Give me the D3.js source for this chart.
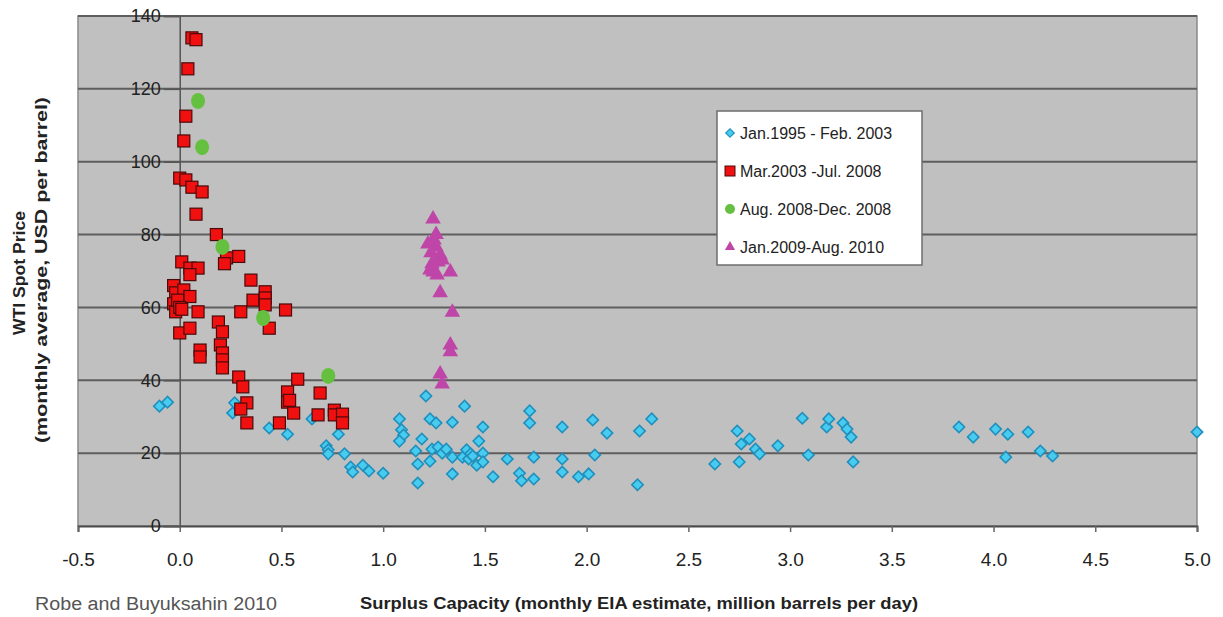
<!DOCTYPE html>
<html>
<head>
<meta charset="utf-8">
<script src="https://cdn.jsdelivr.net/npm/d3@7"></script>
<style>
  html, body { margin: 0; padding: 0; background: #fff; }
  svg { display: block; }
  text { font-family: "Liberation Sans", Arial, sans-serif; }
</style>
</head>
<body>
<svg id="chart" width="1223" height="617"></svg>
<script>
// Surplus capacity (million b/d) vs. WTI spot price (USD/bbl), by period
const period1995 = [ // Jan.1995 - Feb.2003
  [-0.10,32.9],[-0.06,34.0],[0.27,33.8],[0.26,31.0],[0.44,26.9],[0.53,25.2],[0.65,29.4],
  [0.72,22.0],[0.73,20.9],[0.73,19.8],[0.78,25.2],[0.81,19.8],[0.84,16.2],[0.85,14.8],
  [0.90,16.7],[0.93,15.1],[1.00,14.5],[1.08,29.4],[1.09,26.4],[1.10,25.0],[1.08,23.3],
  [1.16,20.6],[1.17,17.0],[1.17,11.8],[1.21,35.7],[1.19,23.9],[1.23,29.4],[1.26,28.3],
  [1.23,17.8],[1.24,21.1],[1.27,21.7],[1.29,20.0],[1.31,21.1],[1.34,28.5],[1.34,18.9],
  [1.34,14.3],[1.40,32.9],[1.39,18.9],[1.41,20.9],[1.42,18.4],[1.43,19.8],[1.44,19.2],
  [1.46,16.7],[1.47,23.3],[1.49,27.2],[1.49,20.0],[1.49,17.6],[1.54,13.5],[1.61,18.4],
  [1.67,14.5],[1.68,12.4],[1.72,31.6],[1.72,28.3],[1.74,18.9],[1.74,12.9],[1.88,27.2],
  [1.88,18.4],[1.88,14.8],[1.96,13.5],[2.01,14.3],[2.03,29.1],[2.04,19.5],[2.10,25.5],
  [2.25,11.3],[2.26,26.1],[2.32,29.4],[2.63,17.0],[2.74,26.1],[2.75,17.6],[2.76,22.5],
  [2.80,23.9],[2.83,21.1],[2.85,19.8],[2.94,22.0],[3.06,29.6],[3.09,19.5],[3.18,27.2],
  [3.19,29.4],[3.26,28.3],[3.28,26.6],[3.30,24.4],[3.31,17.6],[3.83,27.2],[3.90,24.4],
  [4.01,26.6],[4.07,25.2],[4.06,18.9],[4.17,25.8],[4.23,20.6],[4.29,19.2],[5.00,25.8]
];
const period2003 = [ // Mar.2003 - Jul.2008
  [0.06,134.0],[0.08,133.5],[0.04,125.5],[0.03,112.5],[0.02,105.7],[0.00,95.5],[0.03,95.0],
  [0.06,93.0],[0.11,91.7],[0.08,85.6],[0.18,80.0],[0.23,73.6],[0.29,74.0],[0.01,72.5],
  [0.05,70.8],[0.09,70.8],[0.05,69.0],[0.22,72.0],[0.35,67.5],[-0.03,66.0],[-0.02,64.0],
  [0.02,64.8],[0.05,63.0],[-0.03,61.0],[-0.02,58.8],[-0.01,62.0],[0.00,60.0],[0.01,59.5],
  [0.09,58.8],[0.36,62.0],[0.42,64.3],[0.42,62.6],[0.42,60.7],[0.30,58.8],[0.52,59.3],
  [0.44,54.3],[0.00,53.0],[0.05,54.3],[0.10,48.3],[0.10,46.4],[0.19,56.0],[0.21,53.3],
  [0.20,49.7],[0.21,47.5],[0.21,45.6],[0.21,43.4],[0.29,40.9],[0.31,38.2],[0.33,33.8],
  [0.30,32.1],[0.33,28.3],[0.49,28.3],[0.53,36.8],[0.53,34.0],[0.54,34.5],[0.56,31.0],
  [0.58,40.3],[0.69,36.5],[0.68,30.5],[0.76,31.8],[0.76,30.5],[0.80,30.7],[0.80,28.3]
];
const period2008 = [ // Aug.2008 - Dec.2008
  [0.09,116.7],[0.11,104.0],[0.21,76.6],[0.41,57.1],[0.73,41.2]
];
const period2009 = [ // Jan.2009 - Aug.2010
  [1.245,84.3],[1.22,77.4],[1.26,76.6],[1.235,75.0],[1.28,74.4],[1.27,72.5],[1.245,69.7],
  [1.265,68.9],[1.33,69.7],[1.28,64.0],[1.34,58.7],[1.33,49.7],[1.33,47.8],[1.28,41.7],
  [1.29,39.0],[1.25,78.5],[1.23,70.3],[1.29,73.0],[1.26,80.0],[1.24,72.0]
];
const seriesNames = ["Jan.1995 - Feb. 2003", "Mar.2003 -Jul. 2008", "Aug. 2008-Dec. 2008", "Jan.2009-Aug. 2010"];
const xTicks = [-0.5, 0, 0.5, 1, 1.5, 2, 2.5, 3, 3.5, 4, 4.5, 5];
const yTicks = [0, 20, 40, 60, 80, 100, 120, 140];

const svg = d3.select("#chart");
const plot = { left: 78, right: 1197, top: 16, bottom: 526 };

const x = d3.scaleLinear().domain([-0.5, 5]).range([plot.left, plot.right]);
const y = d3.scaleLinear().domain([0, 140]).range([plot.bottom, plot.top]);

// plot background
svg.append("rect")
  .attr("x", plot.left).attr("y", plot.top)
  .attr("width", plot.right - plot.left).attr("height", plot.bottom - plot.top)
  .attr("fill", "#c0c0c0").attr("stroke", "#8a8a8a").attr("stroke-width", 1.5);

// horizontal gridlines
svg.append("g").selectAll("line").data(yTicks.filter(d => d > 0)).join("line")
  .attr("x1", plot.left).attr("x2", plot.right)
  .attr("y1", d => y(d)).attr("y2", d => y(d))
  .attr("stroke", "#5e5e5e").attr("stroke-width", 2);

// x axis along y = 0
const fmt = d3.format(".1f");
const xAxis = svg.append("g").attr("transform", `translate(0,${y(0)})`)
  .call(d3.axisBottom(x).tickValues(xTicks).tickSize(6).tickPadding(21));
xAxis.select(".domain").attr("stroke", "#4a4a4a").attr("stroke-width", 2);
xAxis.selectAll(".tick line").attr("stroke", "#666").attr("stroke-width", 1.5);
xAxis.selectAll(".tick text").attr("font-size", 19).attr("fill", "#222")
  .text(d => d < 0 ? "-" + fmt(-d) : fmt(d));

// y axis crossing at x = 0
const yAxis = svg.append("g").attr("transform", `translate(${x(0)},0)`)
  .call(d3.axisLeft(y).tickValues(yTicks).tickSize(16).tickPadding(3));
yAxis.select(".domain").attr("stroke", "#555").attr("stroke-width", 1.5);
yAxis.selectAll(".tick line").attr("stroke", "#555").attr("stroke-width", 1.5);
yAxis.selectAll(".tick text").attr("font-size", 18).attr("fill", "#222");

// markers
const marks = svg.append("g");
// diamonds: squares turned 45 degrees
const diamond = d3.symbol().type(d3.symbolSquare).size(64);
marks.append("g").selectAll("path").data(period1995).join("path")
  .attr("d", diamond)
  .attr("transform", d => `translate(${x(d[0])},${y(d[1])}) rotate(45)`)
  .attr("fill", "#47cbee").attr("stroke", "#1f8fbd").attr("stroke-width", 1.6);

marks.append("g").selectAll("rect").data(period2003).join("rect")
  .attr("x", d => x(d[0]) - 6).attr("y", d => y(d[1]) - 6)
  .attr("width", 12).attr("height", 12)
  .attr("fill", "#f01010").attr("stroke", "#4a0a0a").attr("stroke-width", 1.2);

marks.append("g").selectAll("ellipse").data(period2008).join("ellipse")
  .attr("cx", d => x(d[0])).attr("cy", d => y(d[1]))
  .attr("rx", 7).attr("ry", 8)
  .attr("fill", "#66c040");

const tri = d3.symbol().type(d3.symbolTriangle).size(105);
marks.append("g").selectAll("path").data(period2009).join("path")
  .attr("d", tri)
  .attr("transform", d => `translate(${x(d[0])},${y(d[1])})`)
  .attr("fill", "#bf45a8");

// legend
const legend = svg.append("g");
legend.append("rect")
  .attr("x", 717).attr("y", 111).attr("width", 205).attr("height", 154)
  .attr("fill", "#fff").attr("stroke", "#6e6e6e").attr("stroke-width", 1.5);
const legendY = [133, 171, 209, 247];
const row = legend.selectAll("g.row").data(seriesNames).join("g")
  .attr("class", "row")
  .attr("transform", (d, i) => `translate(730,${legendY[i]})`);
row.append("text").attr("x", 10).attr("y", 0).attr("dy", "0.35em")
  .attr("font-size", 16).attr("fill", "#222").text(d => d);
row.filter((d, i) => i === 0).append("path").attr("d", d3.symbol().type(d3.symbolSquare).size(36))
  .attr("transform", "rotate(45)")
  .attr("fill", "#47cbee").attr("stroke", "#1f8fbd").attr("stroke-width", 1.2);
row.filter((d, i) => i === 1).append("rect").attr("x", -5).attr("y", -5).attr("width", 10).attr("height", 10)
  .attr("fill", "#f01010").attr("stroke", "#4a0a0a");
row.filter((d, i) => i === 2).append("circle").attr("r", 5).attr("fill", "#66c040");
row.filter((d, i) => i === 3).append("path").attr("d", d3.symbol().type(d3.symbolTriangle).size(45))
  .attr("fill", "#bf45a8");

// axis titles
svg.append("text")
  .attr("transform", "translate(25,273) rotate(-90)")
  .attr("text-anchor", "middle").attr("font-size", 16).attr("font-weight", "bold").attr("fill", "#222")
  .attr("textLength", 124).attr("lengthAdjust", "spacingAndGlyphs")
  .text("WTI Spot Price");
svg.append("text")
  .attr("transform", "translate(47,270) rotate(-90)")
  .attr("text-anchor", "middle").attr("font-size", 16).attr("font-weight", "bold").attr("fill", "#222")
  .attr("textLength", 346).attr("lengthAdjust", "spacingAndGlyphs")
  .text("(monthly average, USD per barrel)");
svg.append("text")
  .attr("x", 639).attr("y", 609)
  .attr("text-anchor", "middle").attr("font-size", 16).attr("font-weight", "bold").attr("fill", "#222")
  .attr("textLength", 558).attr("lengthAdjust", "spacingAndGlyphs")
  .text("Surplus Capacity (monthly EIA estimate, million barrels per day)");
svg.append("text")
  .attr("x", 35).attr("y", 610)
  .attr("font-size", 18).attr("fill", "#555")
  .attr("textLength", 242).attr("lengthAdjust", "spacingAndGlyphs")
  .text("Robe and Buyuksahin 2010");
</script>
</body>
</html>
